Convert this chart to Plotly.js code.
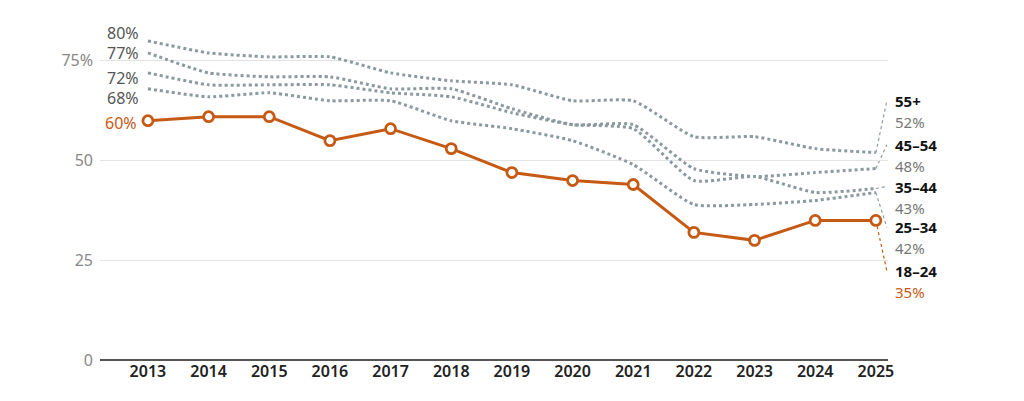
<!DOCTYPE html>
<html>
<head>
<meta charset="utf-8">
<script src="https://cdn.plot.ly/plotly-3.0.1.min.js"></script>
<style>
html,body{margin:0;padding:0;background:#fff;}
#chart{width:1024px;height:401px;}
</style>
</head>
<body>
<div id="chart"></div>
<script>
// ---- data ----
var years = [2013,2014,2015,2016,2017,2018,2019,2020,2021,2022,2023,2024,2025];
var age55 = [80,77,76,76,72,70,69,65,65,56,56,53,52];
var age45 = [77,72,71,71,68,68,63,59,59,48,46,47,48];
var age35 = [72,69,69,69,67,66,62,59,58,45,46,42,43];
var age25 = [68,66,67,65,65,60,58,55,49,39,39,40,42];
var age18 = [60,61,61,55,58,53,47,45,44,32,30,35,35];
var groupNames = ['55+','45–54','35–44','25–34','18–24'];
var yTickVals = [0,25,50,75];
var yTickText = ['0','25','50','75%'];

// ---- styles / layout positions ----
var GRAY = '#8b9a9f';
var ORANGE = '#c65a14';
var series = [age55, age45, age35, age25, age18];
var startShift = [8, 0, -5, -9, -2];          // px offsets of start labels
var endLabelY = [65, 54, 43.5, 33.25, 22.25];  // data-unit positions of end labels
var FONT = '"Noto Sans", sans-serif';

var traces = [];
for (var i = 0; i < 4; i++) {
  traces.push({
    x: years, y: series[i], type: 'scatter', mode: 'lines',
    line: {color: GRAY, width: 3, dash: '3px,3px', shape: 'spline', smoothing: 0.5},
    hoverinfo: 'skip', showlegend: false
  });
}
traces.push({
  x: years, y: age18, type: 'scatter', mode: 'lines+markers',
  line: {color: ORANGE, width: 3},
  marker: {size: 10, color: '#fff', line: {color: ORANGE, width: 2.8}},
  hoverinfo: 'skip', showlegend: false
});

var annotations = [];
var shapes = [];
var last = years.length - 1;
for (var j = 0; j < 5; j++) {
  var isOrange = (j === 4);
  annotations.push({
    x: years[0], y: series[j][0], xref: 'x', yref: 'y',
    text: series[j][0] + '%', showarrow: false,
    xanchor: 'right', yanchor: 'middle', xshift: isOrange ? -9 : -7, yshift: startShift[j],
    font: {family: FONT, size: 16, color: isOrange ? ORANGE : '#555'}
  });
  annotations.push({
    x: years[last], y: endLabelY[j], xref: 'x', yref: 'y',
    text: '<b>' + groupNames[j] + '</b>', showarrow: false,
    xanchor: 'left', yanchor: 'middle', xshift: 17,
    font: {family: FONT, size: 15, color: '#111'}
  });
  annotations.push({
    x: years[last], y: endLabelY[j], xref: 'x', yref: 'y',
    text: series[j][last] + '%', showarrow: false,
    xanchor: 'left', yanchor: 'middle', xshift: 17, yshift: -21,
    font: {family: FONT, size: 15, color: isOrange ? ORANGE : '#777'}
  });
  shapes.push({
    type: 'line', xref: 'x', yref: 'y',
    xsizemode: 'pixel', xanchor: years[last], x0: 0, x1: 11,
    y0: series[j][last], y1: endLabelY[j],
    line: {color: isOrange ? ORANGE : GRAY, width: 1.2, dash: 'dot'},
    layer: 'below'
  });
}

var layout = {
  width: 1024, height: 401,
  margin: {l: 100, r: 136, t: 21, b: 41},
  paper_bgcolor: '#fff', plot_bgcolor: '#fff',
  showlegend: false,
  xaxis: {
    range: [2012.21, 2025.2], showgrid: false, zeroline: false, showline: false,
    tickvals: years, ticktext: years.map(String), ticks: '',
    tickfont: {family: FONT, size: 16, color: '#222', weight: 600},
    fixedrange: true
  },
  yaxis: {
    range: [0, 85], tickvals: yTickVals, ticktext: yTickText,
    showgrid: true, gridcolor: '#e2e2e2', gridwidth: 1,
    zeroline: true, zerolinecolor: '#555', zerolinewidth: 2,
    showline: false, ticks: '', ticklabelstandoff: 6,
    tickfont: {family: FONT, size: 16, color: '#888'},
    fixedrange: true
  },
  annotations: annotations,
  shapes: shapes
};

Plotly.newPlot('chart', traces, layout, {displayModeBar: false, staticPlot: true});
</script>
</body>
</html>
